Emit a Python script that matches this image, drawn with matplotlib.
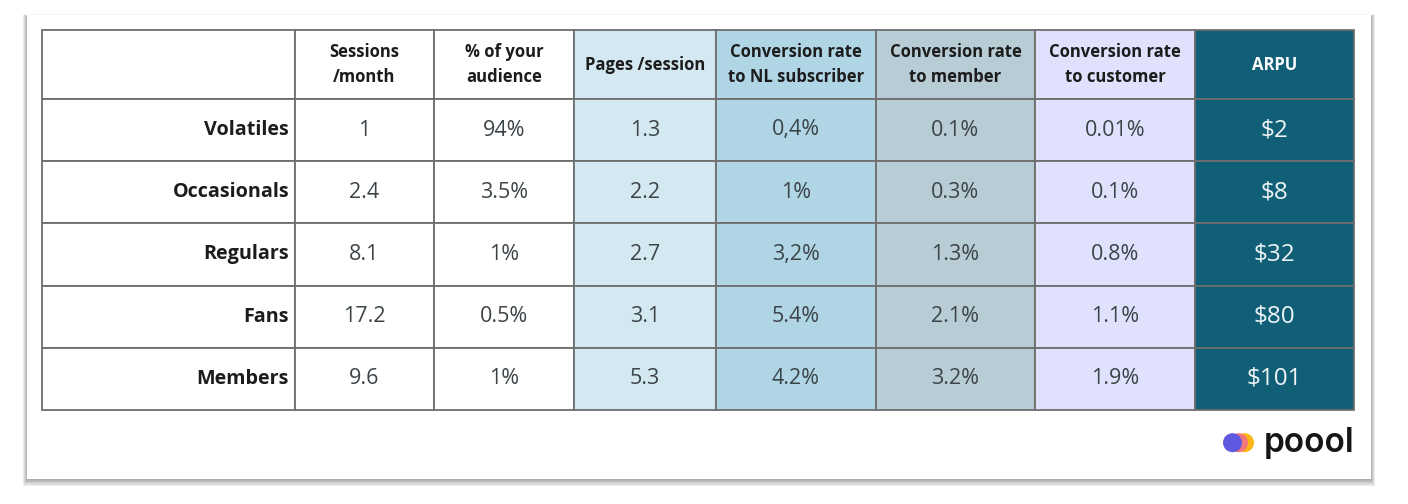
import matplotlib
matplotlib.use("Agg")
import matplotlib.pyplot as plt
from matplotlib.patches import Rectangle, Circle

plt.rcParams['font.family'] = ['Open Sans', 'DejaVu Sans']

headers = ['', 'Sessions\n/month', '% of your\naudience', 'Pages /session',
           'Conversion rate\nto NL subscriber', 'Conversion rate\nto member',
           'Conversion rate\nto customer', 'ARPU']
segments = ['Volatiles', 'Occasionals', 'Regulars', 'Fans', 'Members']
sessions = ['1', '2.4', '8.1', '17.2', '9.6']
audience = ['94%', '3.5%', '1%', '0.5%', '1%']
pages = ['1.3', '2.2', '2.7', '3.1', '5.3']
to_nl = ['0,4%', '1%', '3,2%', '5.4%', '4.2%']
to_member = ['0.1%', '0.3%', '1.3%', '2.1%', '3.2%']
to_customer = ['0.01%', '0.1%', '0.8%', '1.1%', '1.9%']
arpu = ['$2', '$8', '$32', '$80', '$101']

columns = [segments, sessions, audience, pages, to_nl, to_member, to_customer, arpu]
col_colors = ['white', 'white', 'white', '#d3e8f0', '#b0d5e5', '#b7ccd4', '#e0e2fd', '#115f76']

# layout in pixels
x_edges = [42, 295, 434, 574, 716, 876, 1035, 1195, 1354]
y_edges = [30, 99, 161, 223, 286, 348, 410]

W, H = 1408, 504
fig = plt.figure(figsize=(W / 100, H / 100), dpi=100)
ax = fig.add_axes([0, 0, 1, 1])
ax.set_xlim(0, W)
ax.set_ylim(H, 0)
ax.axis('off')

# card shadow, then the card
for i in range(9):
    ax.add_patch(Rectangle((27 - i * 0.55, 16 - i * 0.2), 1344 + i * 1.1, 464 + i * 1.0,
                           fc='black', ec='none', alpha=0.04, zorder=1))
ax.add_patch(Rectangle((27, 15), 1344, 464, fc='white', ec='none', zorder=2))

# table
table_width = x_edges[-1] - x_edges[0]
table_height = y_edges[-1] - y_edges[0]
col_widths = [(b - a) / table_width for a, b in zip(x_edges, x_edges[1:])]
cell_text = [headers] + [[c[r] for c in columns] for r in range(len(segments))]
cell_colors = [col_colors] * (len(segments) + 1)
bbox = [x_edges[0] / W, 1 - y_edges[-1] / H, table_width / W, table_height / H]
tb = ax.table(cellText=cell_text, cellColours=cell_colors, colWidths=col_widths,
              bbox=bbox, cellLoc='center', zorder=3)
tb.auto_set_font_size(False)
for (r, c), cell in tb.get_celld().items():
    cell.set_height((y_edges[r + 1] - y_edges[r]) / table_height)
    cell.set_edgecolor('#6e6e6e')
    cell.set_linewidth(1.3)
    txt = cell.get_text()
    if r == 0:
        txt.set_fontsize(12)
        txt.set_linespacing(1.55)
        txt.set_fontweight('bold')
        txt.set_color('white' if c == 7 else '#1c1c1c')
    elif c == 0:
        txt.set_fontsize(14.2)
        txt.set_fontweight('bold')
        txt.set_color('#1c1c1c')
        txt.set_ha('right')
        cell.PAD = 6 / (x_edges[1] - x_edges[0])
    elif c == 7:
        txt.set_fontsize(17.5)
        txt.set_color('#eef4f6')
    else:
        txt.set_fontsize(15.5)
        txt.set_color('#3c4448')

# logo
ax.add_patch(Circle((1244.5, 442.7), 9.5, fc='#fdb515', ec='none', zorder=4))
ax.add_patch(Circle((1238.5, 442.7), 9.5, fc='#f2777b', ec='none', zorder=5))
ax.add_patch(Circle((1232.5, 442.7), 9.5, fc='#5f58e0', ec='none', zorder=6))
ax.text(1264, 452, 'poool', family=['Inter', 'DejaVu Sans'], fontsize=24, fontweight='semibold',
        color='#161616', ha='left', va='baseline', zorder=6)

fig.savefig('out.png', dpi=100)
